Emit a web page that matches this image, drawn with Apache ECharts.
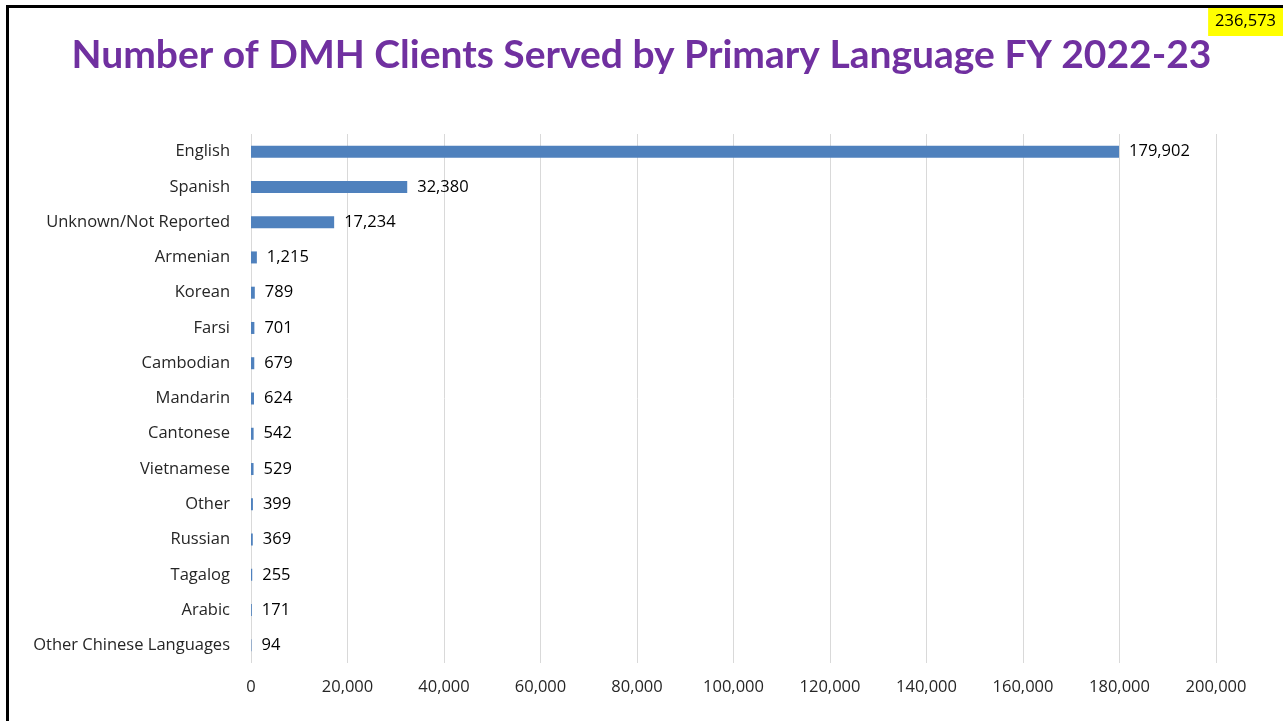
<!DOCTYPE html>
<html>
<head>
<meta charset="utf-8">
<script src="https://cdn.jsdelivr.net/npm/echarts@6/dist/echarts.min.js"></script>
<style>
  html, body { margin: 0; padding: 0; background: #fff; }
  #frame {
    position: absolute; left: 6px; top: 5px; width: 1277px; height: 716px;
    border-left: 3px solid #000; border-top: 3px solid #000; box-sizing: border-box;
  }
  #chart { position: absolute; left: 0; top: 0; width: 1283px; height: 721px; }
</style>
</head>
<body>
<div id="chart"></div>
<div id="frame"></div>
<script>
const languages = [
  'English', 'Spanish', 'Unknown/Not Reported', 'Armenian', 'Korean', 'Farsi',
  'Cambodian', 'Mandarin', 'Cantonese', 'Vietnamese', 'Other', 'Russian',
  'Tagalog', 'Arabic', 'Other Chinese Languages'
]
const clients = [179902, 32380, 17234, 1215, 789, 701, 679, 624, 542, 529, 399, 369, 255, 171, 94]
const totalClients = '236,573'

const fmt = v => v.toLocaleString('en-US')
const titleFont = 'Lato, "Open Sans", sans-serif'
const font = '"Open Sans", "Noto Sans", sans-serif'

const chart = echarts.init(document.getElementById('chart'))
chart.setOption({
  animation: false,
  title: [
    {
      text: 'Number of DMH Clients Served by Primary Language FY 2022-23',
      left: 'center',
      top: 31,
      textStyle: { color: '#7030A0', fontSize: 39, fontWeight: 'bold', fontFamily: titleFont },
    },
    {
      text: totalClients,
      right: 0,
      top: 6,
      backgroundColor: '#FFFF00',
      padding: [7, 7, 6, 7],
      textStyle: { color: '#000', fontSize: 16.5, fontWeight: 'normal', fontFamily: font },
    },
  ],
  grid: { left: 251, right: 67, top: 134, bottom: 58 },
  xAxis: {
    type: 'value',
    min: 0,
    max: 200000,
    interval: 20000,
    axisLine: { show: false },
    axisTick: { show: false },
    axisLabel: { color: '#262626', fontSize: 16.5, fontFamily: font, margin: 16, formatter: v => fmt(v) },
    splitLine: { lineStyle: { color: '#d9d9d9', width: 1 } },
  },
  yAxis: {
    type: 'category',
    data: languages,
    inverse: true,
    axisLine: { show: false },
    axisTick: { show: false },
    axisLabel: { color: '#262626', fontSize: 16.5, fontFamily: font, margin: 21 },
  },
  series: [
    {
      type: 'bar',
      data: clients,
      barWidth: 12,
      itemStyle: { color: '#4F81BD' },
      label: {
        show: true,
        position: 'right',
        distance: 10,
        color: '#000',
        fontSize: 16.5,
        fontFamily: font,
        formatter: p => fmt(p.value),
      },
    },
  ],
})
</script>
</body>
</html>
